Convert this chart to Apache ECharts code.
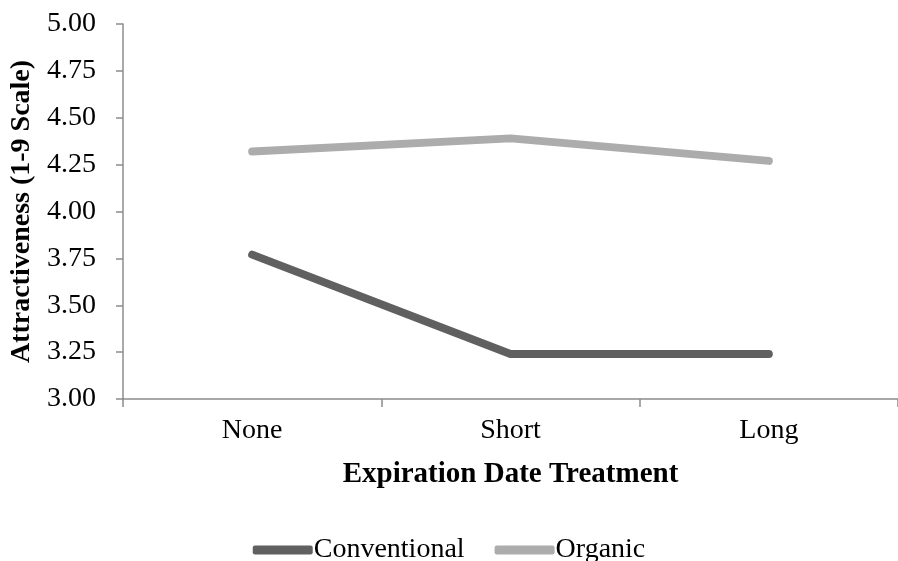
<!DOCTYPE html>
<html><head><meta charset="utf-8">
<script src="https://cdn.jsdelivr.net/npm/echarts@6/dist/echarts.min.js"></script>
<style>html,body{margin:0;padding:0;background:#fff}#c{width:898px;height:561px}</style>
</head><body><div id="c"></div>
<script>
const categories = ['None', 'Short', 'Long'];
const conventional = [3.77, 3.24, 3.24];
const organic = [4.32, 4.39, 4.27];
const yTicks = ['3.00','3.25','3.50','3.75','4.00','4.25','4.50','4.75','5.00'];

const FONT = 'Liberation Serif';
const chart = echarts.init(document.getElementById('c'), null, {renderer: 'canvas'});
chart.setOption({
  animation: false,
  backgroundColor: '#fff',
  textStyle: {fontFamily: FONT, color: '#000'},
  grid: {left: 123, right: 0, top: 24, bottom: 162, containLabel: false},
  xAxis: {
    type: 'category', data: categories, boundaryGap: true,
    name: 'Expiration Date Treatment', nameLocation: 'middle', nameGap: 61,
    nameTextStyle: {fontFamily: FONT, fontWeight: 'bold', fontSize: 29, color: '#000'},
    axisLine: {lineStyle: {color: '#8c8c8c', width: 1.5}},
    axisTick: {show: true, length: 8, lineStyle: {color: '#8c8c8c', width: 1.5}},
    axisLabel: {fontFamily: FONT, fontSize: 28, color: '#000', margin: 18}
  },
  yAxis: {
    type: 'value', min: 3, max: 5, interval: 0.25,
    name: 'Attractiveness (1-9 Scale)', nameLocation: 'middle', nameGap: 87, nameRotate: 90,
    nameTextStyle: {fontFamily: FONT, fontWeight: 'bold', fontSize: 28, color: '#000'},
    axisLine: {show: true, lineStyle: {color: '#8c8c8c', width: 1.5}},
    axisTick: {show: true, length: 7, lineStyle: {color: '#8c8c8c', width: 1.5}},
    splitLine: {show: false},
    axisLabel: {fontFamily: FONT, fontSize: 28, color: '#000', margin: 27,
      formatter: v => yTicks[Math.round((v - 3) / 0.25)]}
  },
  legend: {
    top: 531, left: 'center', itemGap: 30, itemWidth: 60, itemHeight: 9,
    icon: 'roundRect',
    textStyle: {fontFamily: FONT, fontSize: 28, color: '#000', padding: [0, 0, 0, -4]},
    data: ['Conventional', 'Organic']
  },
  series: [
    {name: 'Conventional', type: 'line', data: conventional, showSymbol: false, symbol: 'none',
     color: '#606060', lineStyle: {width: 8, color: '#606060', cap: 'round', join: 'round'}},
    {name: 'Organic', type: 'line', data: organic, showSymbol: false, symbol: 'none',
     color: '#acacac', lineStyle: {width: 8, color: '#acacac', cap: 'round', join: 'round'}}
  ]
});
</script></body></html>
